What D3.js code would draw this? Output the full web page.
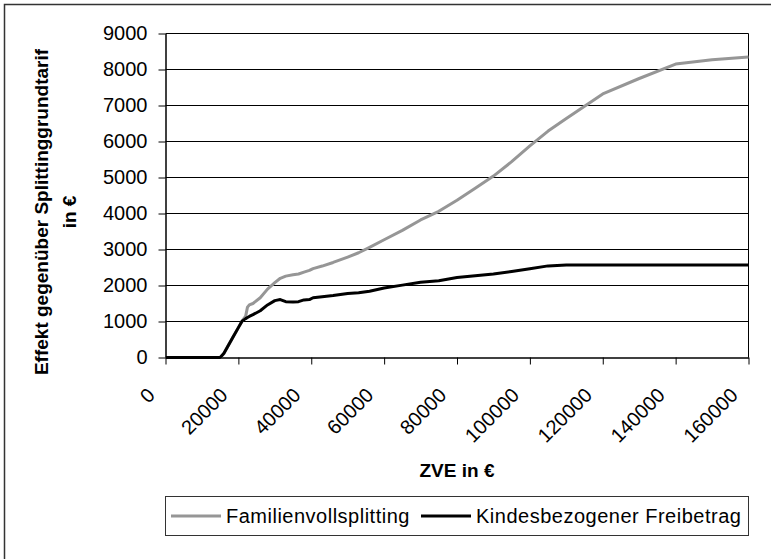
<!DOCTYPE html>
<html>
<head>
<meta charset="utf-8">
<script src="https://cdn.jsdelivr.net/npm/d3@7"></script>
<style>
body { margin: 0; background: #fff; }
svg { display: block; font-family: "Liberation Sans", Arial, sans-serif; }
</style>
</head>
<body>
<div id="chart"></div>
<script>
// zu versteuerndes Einkommen (x)
var zve = [0, 10000, 15000, 16000, 17000, 18500, 20000, 21000, 22000, 22500, 23000, 24000,
           26000, 28000, 30000, 31500, 33000, 35000, 36500, 38000, 39500, 40500, 43000, 46000,
           50000, 53000, 56000, 60000, 65000, 70000, 75000, 80000, 85000, 90000, 95000, 100000,
           105000, 110000, 115000, 120000, 130000, 140000, 150000, 160000];

var familienvollsplitting = [0, 0, 0, 110, 290, 560, 830, 1010, 1150, 1400, 1460, 1500,
           1660, 1900, 2080, 2200, 2260, 2300, 2320, 2370, 2420, 2470, 2540, 2640,
           2790, 2910, 3060, 3270, 3530, 3820, 4060, 4370, 4700, 5040, 5440, 5880,
           6290, 6640, 6980, 7320, 7750, 8150, 8270, 8350];

var kindesbezogen = [0, 0, 0, 110, 290, 560, 830, 1010, 1080, 1110, 1140, 1190,
           1300, 1460, 1580, 1610, 1550, 1545, 1550, 1600, 1610, 1660, 1690, 1720,
           1780, 1800, 1840, 1930, 2010, 2090, 2130, 2220, 2270, 2318, 2390, 2465,
           2545, 2570, 2570, 2570, 2570, 2570, 2570, 2570];

var xTicks = [0, 20000, 40000, 60000, 80000, 100000, 120000, 140000, 160000];
var yTicks = [0, 1000, 2000, 3000, 4000, 5000, 6000, 7000, 8000, 9000];

var seriesNames = ['Familienvollsplitting', 'Kindesbezogener Freibetrag'];
var seriesColors = ['#969696', '#000000'];

var width = 771, height = 559;
var plotLeft = 165.5, plotRight = 748.5, plotTop = 33.5, plotBottom = 357.5;

var svg = d3.select('#chart').append('svg')
    .attr('width', width)
    .attr('height', height);

// aeusserer Rahmen
svg.append('rect')
    .attr('x', 4.5).attr('y', 4.5)
    .attr('width', 900).attr('height', 900)
    .attr('fill', 'none')
    .attr('stroke', '#333')
    .attr('stroke-width', 1.5);

var x = d3.scaleLinear().domain([0, 160000]).range([plotLeft, plotRight]);
var y = d3.scaleLinear().domain([0, 9000]).range([plotBottom, plotTop]);

// Gitterlinien
svg.append('g')
    .selectAll('line')
    .data(yTicks.slice(1))
    .enter()
    .append('line')
    .attr('x1', plotLeft).attr('x2', plotRight)
    .attr('y1', function(d) { return y(d); })
    .attr('y2', function(d) { return y(d); })
    .attr('stroke', '#000')
    .attr('stroke-width', 1);

// rechter Rand der Zeichenflaeche
svg.append('line')
    .attr('x1', plotRight).attr('x2', plotRight)
    .attr('y1', plotTop).attr('y2', plotBottom)
    .attr('stroke', '#000');

var yAxis = svg.append('g')
    .attr('transform', 'translate(' + plotLeft + ',0)')
    .call(d3.axisLeft(y).tickValues(yTicks).tickSize(7).tickSizeOuter(0).tickPadding(11)
        .tickFormat(function(d) { return d; }));
yAxis.select('.domain').attr('stroke', '#000').attr('stroke-width', 1.5);
yAxis.selectAll('text')
    .attr('font-size', '20px')
    .attr('font-family', '"Liberation Sans", Arial, sans-serif')
    .attr('fill', '#000');

var xAxis = svg.append('g')
    .attr('transform', 'translate(0,' + plotBottom + ')')
    .call(d3.axisBottom(x).tickValues(xTicks).tickSize(7).tickSizeOuter(0)
        .tickFormat(function(d) { return d; }));
xAxis.select('.domain').attr('stroke', '#000').attr('stroke-width', 1.5);
xAxis.selectAll('text')
    .attr('font-size', '20px')
    .attr('font-family', '"Liberation Sans", Arial, sans-serif')
    .attr('fill', '#000')
    .attr('text-anchor', 'end')
    .attr('x', -10)
    .attr('y', 39)
    .attr('dy', 0)
    .attr('transform', 'rotate(-45,-10,39)');

var line = d3.line()
    .x(function(d) { return x(d[0]); })
    .y(function(d) { return y(d[1]); });

var series = [familienvollsplitting, kindesbezogen];
series.forEach(function(vals, i) {
    svg.append('path')
        .datum(zve.map(function(z, j) { return [z, vals[j]]; }))
        .attr('d', line)
        .attr('fill', 'none')
        .attr('stroke', seriesColors[i])
        .attr('stroke-width', 3)
        .attr('stroke-linejoin', 'round');
});

// Achsentitel
var yTitle = svg.append('text')
    .attr('transform', 'translate(48,212) rotate(-90)')
    .attr('text-anchor', 'middle')
    .attr('font-size', '19px')
    .attr('font-weight', 'bold');
yTitle.append('tspan').attr('x', 0).attr('y', 0).text('Effekt gegenüber Splittinggrundtarif');
yTitle.append('tspan').attr('x', 0).attr('y', 28).text('in €');

svg.append('text')
    .attr('x', (plotLeft + plotRight) / 2)
    .attr('y', 477)
    .attr('text-anchor', 'middle')
    .attr('font-size', '19px')
    .attr('font-weight', 'bold')
    .text('ZVE in €');

// Legende
var legend = svg.append('g');
legend.append('rect')
    .attr('x', 165.5).attr('y', 496.5)
    .attr('width', 583).attr('height', 39)
    .attr('fill', '#fff')
    .attr('stroke', '#333');

var legendX = [171, 421];
seriesNames.forEach(function(name, i) {
    legend.append('line')
        .attr('x1', legendX[i]).attr('x2', legendX[i] + 50)
        .attr('y1', 516).attr('y2', 516)
        .attr('stroke', seriesColors[i])
        .attr('stroke-width', 3);
    legend.append('text')
        .attr('x', legendX[i] + 55)
        .attr('y', 523)
        .attr('font-size', '20px')
        .attr('letter-spacing', '0.5px')
        .text(name);
});
</script>
</body>
</html>
